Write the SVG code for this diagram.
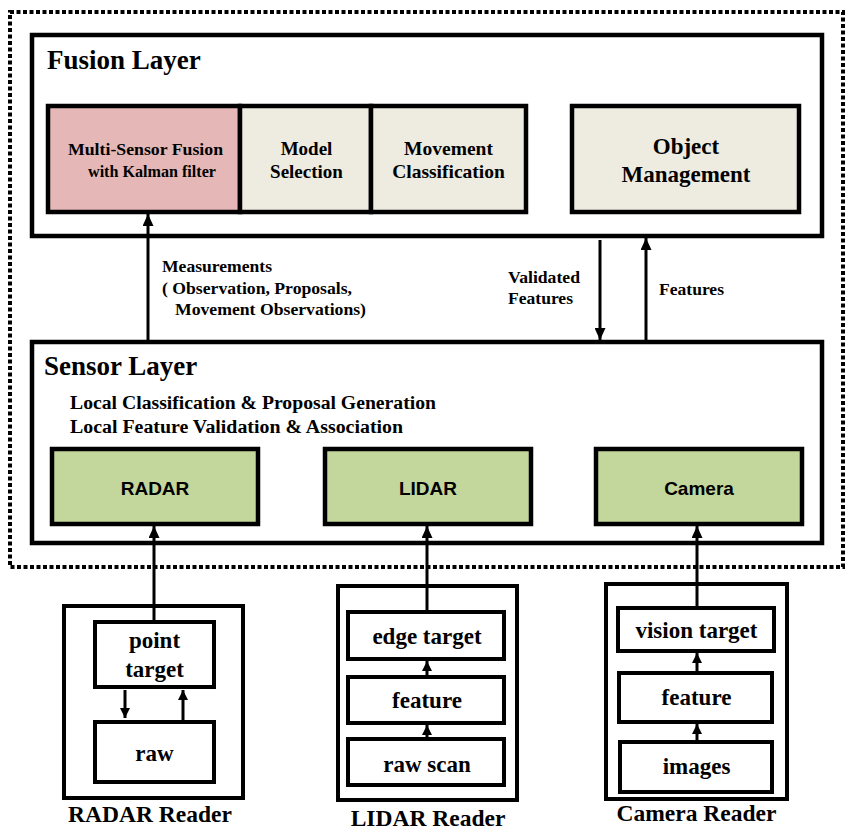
<svg xmlns="http://www.w3.org/2000/svg" width="851" height="831" viewBox="0 0 851 831">
<defs>
<marker id="ah" markerUnits="userSpaceOnUse" markerWidth="12" markerHeight="11" refX="12" refY="5.5" orient="auto">
<path d="M0,0 L12,5.5 L0,11 z" fill="#000"/>
</marker>
<marker id="ahs" markerUnits="userSpaceOnUse" markerWidth="10" markerHeight="10" refX="10" refY="5" orient="auto">
<path d="M0,0 L10,5 L0,10 z" fill="#000"/>
</marker>
</defs>
<style>
.serif{font-family:"Liberation Serif","Times New Roman",serif;font-weight:bold;fill:#000}
.sans{font-family:"Liberation Sans",Arial,sans-serif;font-weight:bold;fill:#000}
.box{fill:#fff;stroke:#000;stroke-width:4.5}
.ibox{stroke:#000;stroke-width:4.5}
.rbox{fill:#fff;stroke:#000;stroke-width:4}
.conn{stroke:#000;stroke-width:3;fill:none}
.mid{text-anchor:middle}
</style>
<rect x="10" y="12" width="833" height="555" fill="none" stroke="#000" stroke-width="4" stroke-dasharray="4 2.5"/>

<g id="fusion-layer">
<rect class="box" x="32" y="35" width="790" height="201"/>
<text class="serif" x="47" y="69" font-size="27">Fusion Layer</text>
</g>
<g id="multi-sensor-fusion">
<rect class="ibox" x="48" y="106" width="192" height="106" fill="#e5b8b7"/>
<text class="serif mid" x="145.5" y="155" font-size="16.5" textLength="155" lengthAdjust="spacingAndGlyphs">Multi-Sensor Fusion</text>
<text class="serif mid" x="152" y="177" font-size="16.5" textLength="128" lengthAdjust="spacingAndGlyphs">with Kalman filter</text>
</g>
<g id="model-selection">
<rect class="ibox" x="240" y="106" width="131" height="106" fill="#eeebe0"/>
<text class="serif mid" x="306.5" y="155" font-size="19">Model</text>
<text class="serif mid" x="306.5" y="178" font-size="19">Selection</text>
</g>
<g id="movement-classification">
<rect class="ibox" x="371" y="106" width="155" height="106" fill="#eeebe0"/>
<text class="serif mid" x="448.5" y="155" font-size="19.5">Movement</text>
<text class="serif mid" x="448.5" y="178" font-size="19.5">Classification</text>
</g>
<g id="object-management">
<rect class="ibox" x="572" y="106" width="227" height="106" fill="#eeebe0"/>
<text class="serif mid" x="686" y="154" font-size="23">Object</text>
<text class="serif mid" x="686" y="182" font-size="23">Management</text>
</g>

<g id="sensor-layer">
<rect class="box" x="32" y="342" width="790" height="201"/>
<text class="serif" x="44" y="375" font-size="27">Sensor Layer</text>
<text class="serif" x="70" y="409" font-size="18" textLength="366" lengthAdjust="spacingAndGlyphs">Local Classification &amp; Proposal Generation</text>
<text class="serif" x="70" y="433" font-size="18" textLength="333" lengthAdjust="spacingAndGlyphs">Local Feature Validation &amp; Association</text>
</g>
<g id="radar">
<rect class="ibox" x="52" y="449" width="206" height="75" fill="#c3d69b"/>
<text class="sans mid" x="155" y="495" font-size="19">RADAR</text>
</g>
<g id="lidar">
<rect class="ibox" x="325" y="449" width="206" height="75" fill="#c3d69b"/>
<text class="sans mid" x="428" y="495" font-size="19">LIDAR</text>
</g>
<g id="camera">
<rect class="ibox" x="596" y="449" width="206" height="75" fill="#c3d69b"/>
<text class="sans mid" x="699" y="495" font-size="19">Camera</text>
</g>

<g id="radar-reader">
<rect class="rbox" x="64" y="606" width="179" height="192"/>
<text class="serif mid" x="150" y="822" font-size="23.5">RADAR Reader</text>
</g>
<g id="point-target">
<rect class="rbox" x="95" y="622" width="119" height="65"/>
<text class="serif mid" x="154.5" y="648" font-size="23">point</text>
<text class="serif mid" x="154.5" y="677" font-size="23">target</text>
</g>
<g id="raw">
<rect class="rbox" x="95" y="722" width="119" height="60"/>
<text class="serif mid" x="154.5" y="761" font-size="23">raw</text>
</g>

<g id="lidar-reader">
<rect class="rbox" x="338" y="586" width="179" height="214"/>
<text class="serif mid" x="428" y="826" font-size="23.5">LIDAR Reader</text>
</g>
<g id="edge-target">
<rect class="rbox" x="348" y="612" width="156" height="47"/>
<text class="serif mid" x="427" y="644" font-size="23">edge target</text>
</g>
<g id="lidar-feature">
<rect class="rbox" x="348" y="677" width="156" height="46"/>
<text class="serif mid" x="427" y="708" font-size="23">feature</text>
</g>
<g id="raw-scan">
<rect class="rbox" x="348" y="739" width="156" height="46"/>
<text class="serif mid" x="427" y="772" font-size="23">raw scan</text>
</g>

<g id="camera-reader">
<rect class="rbox" x="606" y="584" width="181" height="215"/>
<text class="serif mid" x="696.5" y="821" font-size="23.5">Camera Reader</text>
</g>
<g id="vision-target">
<rect class="rbox" x="618" y="608" width="156" height="43"/>
<text class="serif mid" x="696.5" y="638" font-size="23">vision target</text>
</g>
<g id="camera-feature">
<rect class="rbox" x="619" y="673" width="153" height="49"/>
<text class="serif mid" x="696.5" y="705" font-size="23">feature</text>
</g>
<g id="images">
<rect class="rbox" x="620" y="742" width="152" height="50"/>
<text class="serif mid" x="696.5" y="774" font-size="23">images</text>
</g>

<g id="connectors">
<line class="conn" x1="148" y1="342" x2="148" y2="214" marker-end="url(#ah)"/>
<line class="conn" x1="600" y1="240" x2="600" y2="340" marker-end="url(#ah)"/>
<line class="conn" x1="646" y1="342" x2="646" y2="238" marker-end="url(#ah)"/>
<line class="conn" x1="154" y1="620" x2="154" y2="526" marker-end="url(#ah)"/>
<line class="conn" x1="427" y1="610" x2="427" y2="526" marker-end="url(#ah)"/>
<line class="conn" x1="697" y1="606" x2="697" y2="526" marker-end="url(#ah)"/>
<line class="conn" x1="125" y1="690" x2="125" y2="718" marker-end="url(#ahs)"/>
<line class="conn" x1="183" y1="720" x2="183" y2="690" marker-end="url(#ahs)"/>
<line class="conn" x1="427" y1="675" x2="427" y2="661" marker-end="url(#ahs)"/>
<line class="conn" x1="427" y1="737" x2="427" y2="725" marker-end="url(#ahs)"/>
<line class="conn" x1="697" y1="671" x2="697" y2="653" marker-end="url(#ahs)"/>
<line class="conn" x1="697" y1="740" x2="697" y2="724" marker-end="url(#ahs)"/>
<text class="serif" x="162" y="272" font-size="16" textLength="110" lengthAdjust="spacingAndGlyphs">Measurements</text>
<text class="serif" x="162" y="294" font-size="16" textLength="190" lengthAdjust="spacingAndGlyphs">( Observation, Proposals,</text>
<text class="serif" x="175" y="315" font-size="16" textLength="191" lengthAdjust="spacingAndGlyphs">Movement Observations)</text>
<text class="serif" x="508" y="283" font-size="16" textLength="72" lengthAdjust="spacingAndGlyphs">Validated</text>
<text class="serif" x="508" y="304" font-size="16" textLength="65" lengthAdjust="spacingAndGlyphs">Features</text>
<text class="serif" x="659" y="295" font-size="16" textLength="65" lengthAdjust="spacingAndGlyphs">Features</text>
</g>
</svg>
